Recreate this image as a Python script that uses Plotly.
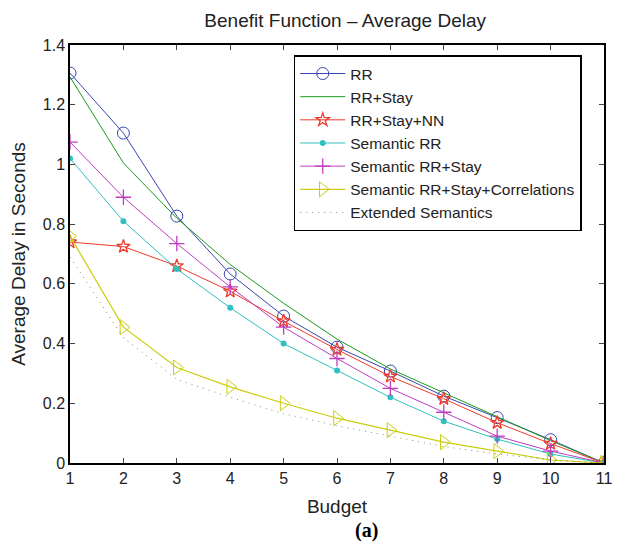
import plotly.graph_objects as go

budget = [1, 2, 3, 4, 5, 6, 7, 8, 9, 10, 11]
rr = [1.306, 1.105, 0.827, 0.633, 0.492, 0.388, 0.308, 0.224, 0.152, 0.078, 0.0]
rr_stay = [1.293, 1.005, 0.82, 0.665, 0.535, 0.415, 0.315, 0.235, 0.155, 0.075, 0.0]
rr_stay_nn = [0.74, 0.725, 0.66, 0.575, 0.475, 0.38, 0.29, 0.215, 0.135, 0.065, 0.0]
sem_rr = [1.02, 0.81, 0.65, 0.52, 0.40, 0.31, 0.22, 0.14, 0.08, 0.03, 0.0]
sem_rr_stay = [1.075, 0.89, 0.735, 0.59, 0.455, 0.35, 0.25, 0.17, 0.09, 0.04, 0.0]
sem_corr = [0.76, 0.455, 0.32, 0.255, 0.20, 0.15, 0.11, 0.07, 0.04, 0.01, 0.0]
ext_sem = [0.69, 0.42, 0.28, 0.22, 0.165, 0.125, 0.09, 0.055, 0.03, 0.01, 0.0]

yticks = [0, 0.2, 0.4, 0.6, 0.8, 1.0, 1.2, 1.4]
ytick_labels = ["0", "0.2", "0.4", "0.6", "0.8", "1", "1.2", "1.4"]

fig = go.Figure()
fig.add_trace(go.Scatter(x=budget, y=rr, name="RR", mode="lines+markers",
                         line=dict(color="#3846b0", width=1),
                         marker=dict(symbol="circle-open", size=12, color="#3846b0", line=dict(width=1))))
fig.add_trace(go.Scatter(x=budget, y=rr_stay, name="RR+Stay", mode="lines",
                         line=dict(color="#1a9a1a", width=1)))
fig.add_trace(go.Scatter(x=budget, y=rr_stay_nn, name="RR+Stay+NN", mode="lines+markers",
                         line=dict(color="#ee3a2a", width=1),
                         marker=dict(symbol="star-open", size=10, color="#ee3a2a", line=dict(width=1.3))))
fig.add_trace(go.Scatter(x=budget, y=sem_rr, name="Semantic RR", mode="lines+markers",
                         line=dict(color="#30c0c0", width=1),
                         marker=dict(symbol="circle", size=6, color="#30c0c0")))
fig.add_trace(go.Scatter(x=budget, y=sem_rr_stay, name="Semantic RR+Stay", mode="lines+markers",
                         line=dict(color="#c03cc0", width=1),
                         marker=dict(symbol="cross-thin-open", size=11, color="#c03cc0", line=dict(width=1.3, color="#c03cc0"))))
fig.add_trace(go.Scatter(x=budget, y=sem_corr, name="Semantic RR+Stay+Correlations", mode="lines+markers",
                         line=dict(color="#cccc10", width=1.2),
                         marker=dict(symbol="triangle-right-open", size=13, color="#cccc10", line=dict(width=1))))
fig.add_trace(go.Scatter(x=budget, y=ext_sem, name="Extended Semantics", mode="lines",
                         line=dict(color="#888888", width=1, dash="1px,5px")))

fig.update_layout(
    width=622, height=546,
    margin=dict(l=70, r=10, t=45, b=83),
    paper_bgcolor="white", plot_bgcolor="white",
    font=dict(family="Liberation Sans, Arial, sans-serif", size=16, color="#222222"),
    title=dict(text="Benefit Function \u2013 Average Delay", x=0.555, xanchor="center", y=0.963, yanchor="middle",
               font=dict(size=19)),
    showlegend=True,
    legend=dict(x=0.419, y=0.975, xanchor="left", yanchor="top",
                bordercolor="black", borderwidth=1.5, bgcolor="white",
                font=dict(size=15.5), tracegroupgap=0, itemwidth=45),
)
fig.update_xaxes(range=[1, 11], tickvals=budget, ticks="inside", ticklen=5, mirror="ticks",
                 showline=True, linecolor="black", linewidth=1.5, showgrid=False, zeroline=False,
                 tickfont=dict(size=16),
                 title=dict(text="Budget", standoff=14, font=dict(size=19)))
fig.update_yaxes(range=[0, 1.4], tickvals=yticks, ticktext=ytick_labels, ticks="inside", ticklen=5,
                 mirror="ticks", showline=True, linecolor="black", linewidth=1.5, showgrid=False,
                 tickfont=dict(size=16),
                 zeroline=False, title=dict(text="Average Delay in Seconds", standoff=12, font=dict(size=19)))
fig.add_annotation(text="<b>(a)</b>", x=0.555, xref="paper", y=-0.128, yref="paper", yanchor="top",
                   showarrow=False, font=dict(family="Liberation Serif, Times New Roman, serif", size=20, color="black"))
fig.write_html("out.html")
